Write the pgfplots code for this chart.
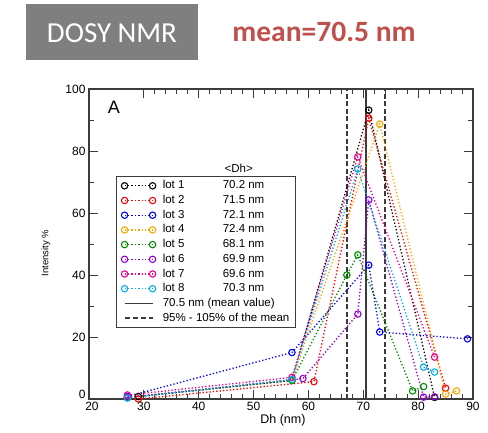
\documentclass[border=0pt]{standalone}
\usepackage{fontspec}
\setmainfont{Liberation Sans}
\newfontfamily\calibri{Carlito}
\usepackage{pgfplots}
\pgfplotsset{compat=1.18}

\definecolor{axisgray}{HTML}{3C3C3C}
\definecolor{boxgray}{HTML}{7F7F7F}
\definecolor{titlered}{RGB}{192,80,77}
\definecolor{lorange}{RGB}{255,165,0}
\definecolor{lgreen}{RGB}{0,139,0}
\definecolor{lviolet}{RGB}{148,0,211}
\definecolor{lblue}{RGB}{0,0,255}

\pgfplotsset{
  lot/.style={color=#1, line width=1.3pt, dash pattern=on 1.3pt off 2.1pt,
    mark=o, mark size=3.2pt, mark options={solid, line width=1.1pt, fill=white}},
}

\begin{document}
\begin{tikzpicture}
\useasboundingbox (0pt,0pt) rectangle (488pt,432pt);
\fill[boxgray] (26pt,372pt) rectangle (198pt,428pt);
\node[text=white, font=\calibri\fontsize{29}{32}\selectfont] at (112pt,399pt) {DOSY NMR};
\node[text=titlered, font=\calibri\bfseries\fontsize{29.5}{32}\selectfont] at (324pt,400pt) {mean=70.5 nm};

\begin{axis}[
  at={(89pt,33pt)}, anchor=south west,
  width=384pt, height=310pt, scale only axis,
  xmin=20, xmax=90, ymin=0, ymax=100,
  clip=false,
  axis line style={axisgray, line width=1.2pt},
  tick style={axisgray, line width=1pt},
  tick align=inside,
  major tick length=9pt, minor tick length=5pt,
  xtick={30,40,...,90}, minor x tick num=4,
  ytick={20,40,...,100}, minor y tick num=1,
  extra x ticks={20}, extra x tick style={xticklabel style={xshift=3pt}},
  extra y ticks={0}, extra y tick style={yticklabel style={yshift=5pt}},
  ticklabel style={font=\fontsize{12}{14}\selectfont},
  /pgf/number format/assume math mode=true,
  xlabel={Dh (nm)}, ylabel={Intensity \%},
  xlabel style={at={(axis description cs:0.505,-0.068)}, anchor=center, font=\fontsize{12.5}{14}\selectfont},
  ylabel style={at={(axis description cs:-0.112,0.47)}, anchor=center, font=\fontsize{9.5}{11}\selectfont},
  legend cell align=left,
  legend image code/.code={\draw[mark repeat=2, mark phase=1, #1] plot coordinates {(0pt,0pt) (14pt,0pt) (28pt,0pt)};},
  legend style={at={(0.07,0.72)}, anchor=north west, draw=axisgray, line width=1pt, fill=white,
    font=\fontsize{11.5}{13}\selectfont, inner xsep=5pt, inner ysep=3pt, row sep=1.7pt, column sep=6pt,
    nodes={inner sep=1pt, text height=8.5pt, text depth=2.5pt}},
]

% mean and 95-105% lines
\addplot[forget plot, axisgray, line width=1.8pt] coordinates {(70.5,0) (70.5,100)};
\addplot[forget plot, axisgray, line width=1.8pt, dash pattern=on 5pt off 2.5pt] coordinates {(66.975,0) (66.975,100)};
\addplot[forget plot, axisgray, line width=1.8pt, dash pattern=on 5pt off 2.5pt] coordinates {(74.025,0) (74.025,100)};

\addplot[lot=black] coordinates {(29,0.8) (57,6) (71,93.2) (83,0.5)};
\addlegendentry{\makebox[60pt][l]{lot 1}70.2 nm}
\addplot[lot=red] coordinates {(29,0) (61,5.6) (71,90.6) (85,3.5)};
\addlegendentry{\makebox[60pt][l]{lot 2}71.5 nm}
\addplot[lot=lblue] coordinates {(27,0.8) (57,15) (71,43.2) (73,21.6) (89,19.4)};
\addlegendentry{\makebox[60pt][l]{lot 3}72.1 nm}
\addplot[lot=lorange] coordinates {(27,0.5) (57,6) (73,88.7) (85,1.6) (87,2.6)};
\addlegendentry{\makebox[60pt][l]{lot 4}72.4 nm}
\addplot[lot=lgreen] coordinates {(27,0.5) (57,6) (67,40) (69,46.5) (79,2.6) (81,4)};
\addlegendentry{\makebox[60pt][l]{lot 5}68.1 nm}
\addplot[lot=lviolet] coordinates {(27,0.5) (59,6.6) (69,27.4) (71,64.2) (81,0.6) (83,0.7)};
\addlegendentry{\makebox[60pt][l]{lot 6}69.9 nm}
\addplot[lot=magenta] coordinates {(27,1.3) (57,7) (69,78.1) (83,13.5)};
\addlegendentry{\makebox[60pt][l]{lot 7}69.6 nm}
\addplot[lot=cyan] coordinates {(27,0.3) (57,6.3) (69,74.2) (81,10.3) (83,8.7)};
\addlegendentry{\makebox[60pt][l]{lot 8}70.3 nm}

\addlegendimage{axisgray, line width=1.5pt}
\addlegendentry{70.5 nm (mean value)}
\addlegendimage{axisgray, line width=1.5pt, dash pattern=on 5pt off 3pt}
\addlegendentry{95\% - 105\% of the mean}

\node[font=\fontsize{18}{20}\selectfont] at (rel axis cs:0.065,0.942) {A};
\node[font=\fontsize{11.5}{13}\selectfont] at (rel axis cs:0.39,0.745) {\textless Dh\textgreater};
\end{axis}
\end{tikzpicture}
\end{document}
